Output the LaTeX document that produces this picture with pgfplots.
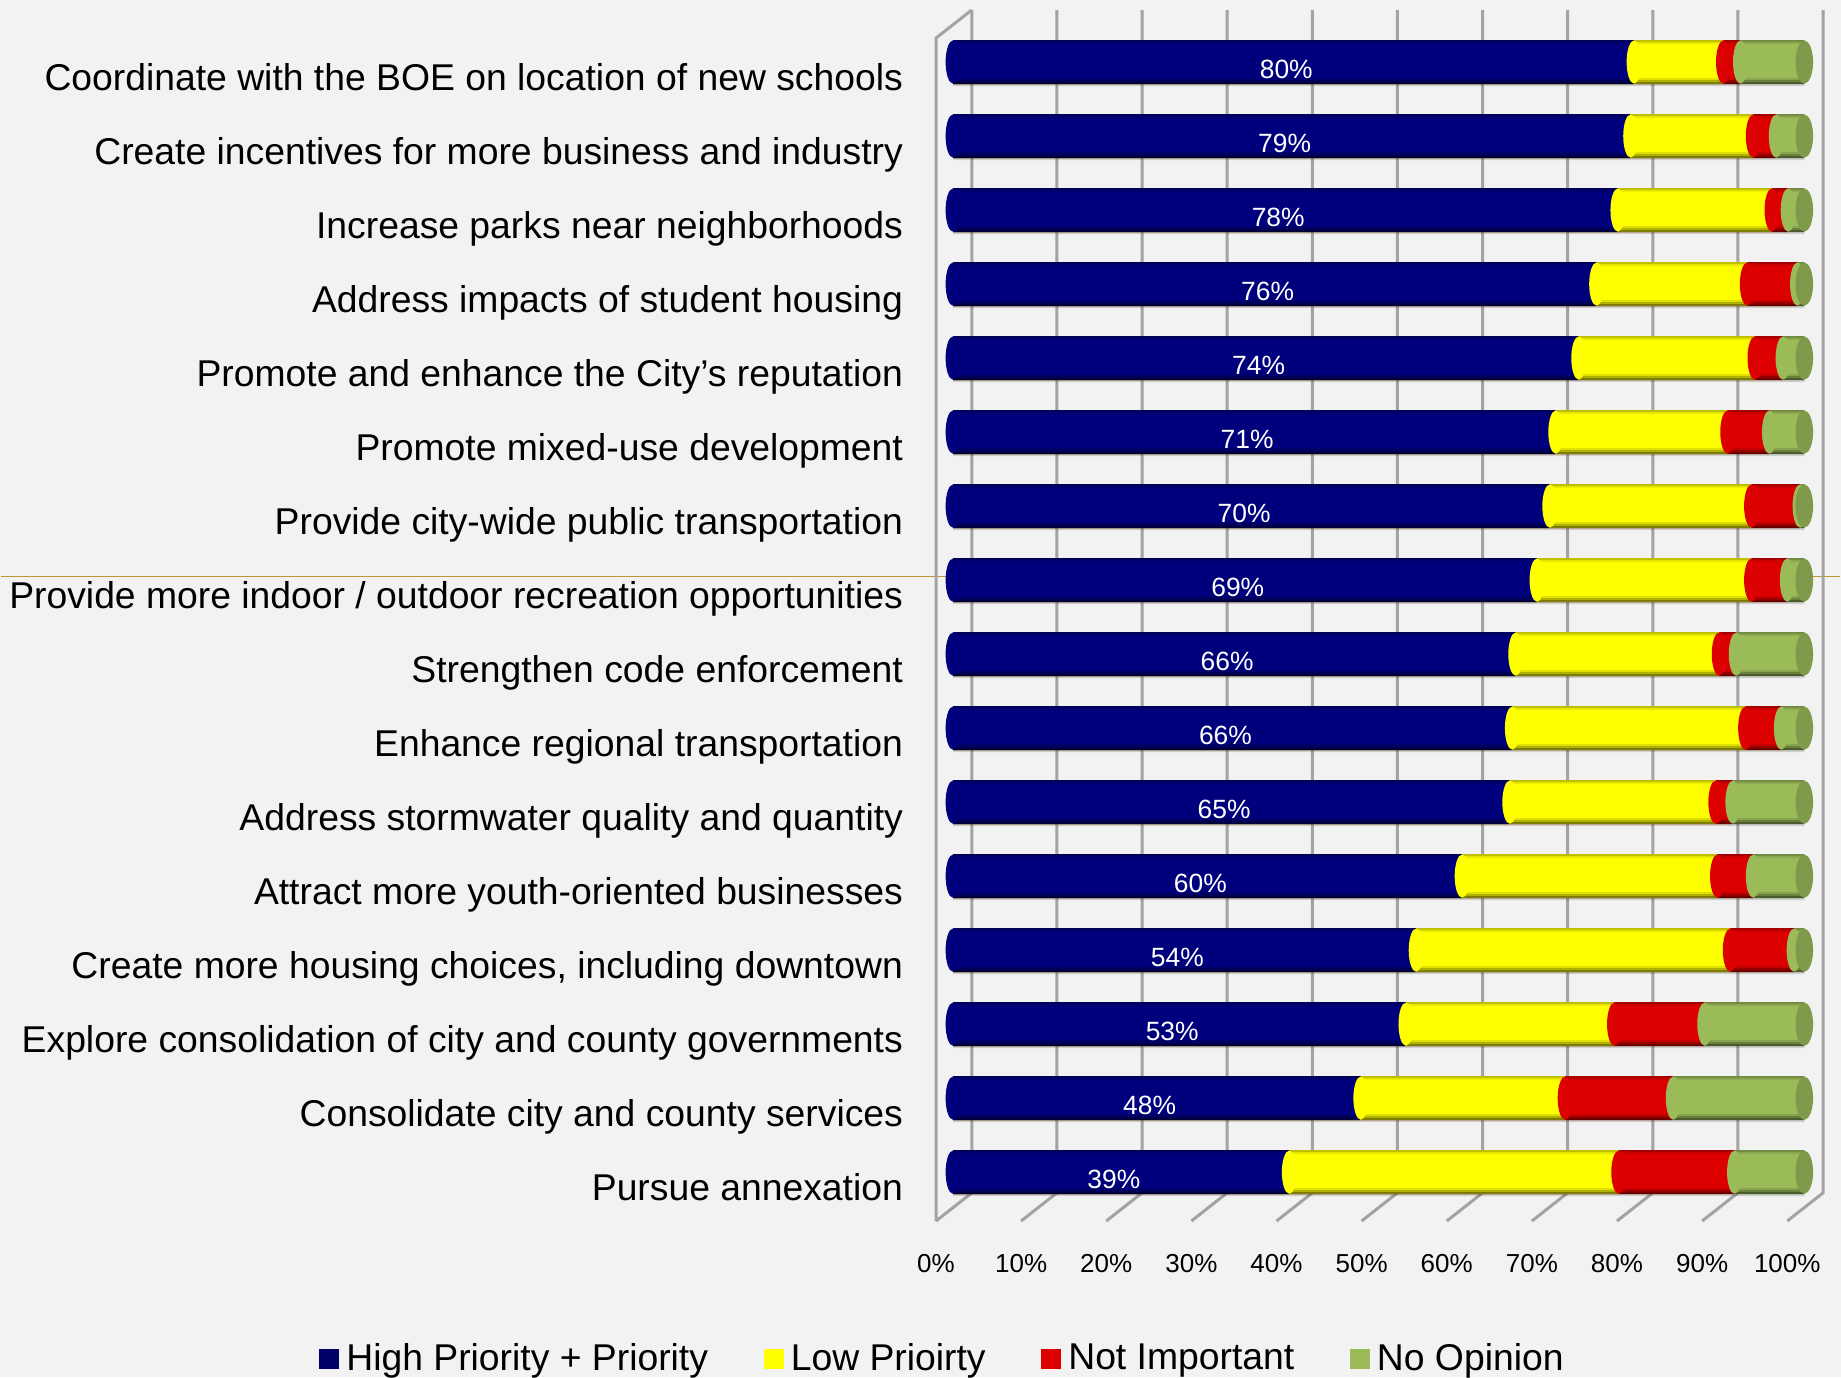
\documentclass[border=0pt]{standalone}
\usepackage{fontspec}
\setmainfont{Liberation Sans}
\usepackage{pgfplots}
\usepackage{pgfplotstable}
\pgfplotsset{compat=1.18}

\definecolor{pagebg}{HTML}{F2F2F2}
\definecolor{navy}{HTML}{00007C}
\definecolor{navyleg}{HTML}{000066}
\definecolor{wall}{HTML}{A3A3A3}
\definecolor{lowy}{HTML}{FFFF00}
\definecolor{notr}{HTML}{DD0000}
\definecolor{nopg}{HTML}{9BBB59}
\definecolor{nopd}{HTML}{7F9A4A}

\pgfdeclareplotmark{cap}{%
  \pgfpathellipse{\pgfpointorigin}{\pgfqpoint{3.7pt}{0pt}}{\pgfqpoint{0pt}{10.8pt}}%
  \pgfusepathqfill}
\pgfdeclareplotmark{capend}{%
  \pgfpathellipse{\pgfpointorigin}{\pgfqpoint{4.4pt}{0pt}}{\pgfqpoint{0pt}{10.8pt}}%
  \pgfusepathqfill}

% share of answers per row, last column is the printed label
\pgfplotstableread{
row high low noti noop lab
0  80.0 10.5 2.0  7.5  80
1  79.6 14.4 2.7  3.3  79
2  78.1 18.1 1.9  1.9  78
3  75.6 17.7 5.9  0.8  76
4  73.5 20.7 3.3  2.5  74
5  70.8 20.2 4.9  4.1  71
6  70.1 23.7 5.7  0.5  70
7  68.6 25.2 4.2  2.0  69
8  66.1 23.9 2.0  8.0  66
9  65.7 27.4 4.2  2.7  66
10 65.4 24.2 2.0  8.4  65
11 59.8 30.0 4.2  6.0  60
12 54.4 36.9 7.5  1.2  54
13 53.2 24.5 10.6 11.7 53
14 47.9 24.0 12.7 15.4 48
15 39.5 38.7 13.6 8.2  39
}\shares

\pgfplotsset{
  seg/.style={forget plot, xbar, bar width=22pt, bar shift=0pt, draw=none, fill=#1},
  edge/.style 2 args={forget plot, xbar, bar width=1pt, bar shift=#1, draw=none, fill=black, fill opacity=#2},
}

\begin{document}
\begin{tikzpicture}
\fill[pagebg] (-468pt,-78pt) rectangle (452.5pt,610.5pt);
\useasboundingbox (-468pt,-78pt) rectangle (452.5pt,610.5pt);
\begin{axis}[
    at={(0,0)}, anchor=south west,
    scale only axis,
    width=443.5pt, height=605.5pt,
    clip=false,
    axis line style={draw=none},
    major tick length=0pt,
    xmin=-2, xmax=102.2,
    ymin=-0.703, ymax=15.66,
    y dir=reverse,
    xtick={-2,8,18,28,38,48,58,68,78,88,98},
    xticklabels={0\%,10\%,20\%,30\%,40\%,50\%,60\%,70\%,80\%,90\%,100\%},
    xticklabel style={font=\fontsize{13}{15}\selectfont, yshift=-13pt},
    ytick={0,...,15},
    yticklabels={
      Coordinate with the BOE on location of new schools,
      Create incentives for more business and industry,
      Increase parks near neighborhoods,
      Address impacts of student housing,
      Promote and enhance the City’s reputation,
      Promote mixed-use development,
      Provide city-wide public transportation,
      Provide more indoor / outdoor recreation opportunities,
      Strengthen code enforcement,
      Enhance regional transportation,
      Address stormwater quality and quantity,
      Attract more youth-oriented businesses,
      {Create more housing choices, including downtown},
      Explore consolidation of city and county governments,
      Consolidate city and county services,
      Pursue annexation},
    yticklabel style={font=\fontsize{18.65}{22}\selectfont, anchor=east, text height=14pt, text depth=4pt, xshift=-13pt, yshift=-9.2pt},
    legend columns=4,
    legend style={at={(rel axis cs:0,0)}, anchor=west, xshift=-311.6pt, yshift=-68.7pt,
      draw=none, fill=none, font=\fontsize{18.65}{22}\selectfont,
      /tikz/every even column/.append style={column sep=25.75pt},
      /tikz/every odd column/.append style={column sep=1.7pt}},
    legend image code/.code={\fill[#1] (0pt,-4.75pt) rectangle (9.5pt,4.75pt);},
    legend cell align=left,
]
\addlegendimage{navyleg}
\addlegendentry{High Priority + Priority}
\addlegendimage{lowy}
\addlegendentry{Low Prioirty}
\addlegendimage{notr}
\addlegendentry{Not Important}
\addlegendimage{nopg}
\addlegendentry{No Opinion}

% stray line across the slide
\addplot[forget plot, color={rgb,255:red,190;green,150;blue,50}, line width=0.5pt]
  coordinates {(-111.8,6.95)(104.2,6.95)};

% back wall and floor
\addplot[forget plot, wall, line width=1.5pt, unbounded coords=jump] coordinates {
  (2.2,-0.703)(2.2,15.28)(-2,15.66) (nan,nan)
  (12.2,-0.703)(12.2,15.28)(8,15.66) (nan,nan)
  (22.2,-0.703)(22.2,15.28)(18,15.66) (nan,nan)
  (32.2,-0.703)(32.2,15.28)(28,15.66) (nan,nan)
  (42.2,-0.703)(42.2,15.28)(38,15.66) (nan,nan)
  (52.2,-0.703)(52.2,15.28)(48,15.66) (nan,nan)
  (62.2,-0.703)(62.2,15.28)(58,15.66) (nan,nan)
  (72.2,-0.703)(72.2,15.28)(68,15.66) (nan,nan)
  (82.2,-0.703)(82.2,15.28)(78,15.66) (nan,nan)
  (92.2,-0.703)(92.2,15.28)(88,15.66) (nan,nan)
  (102.2,-0.703)(102.2,15.28)(98,15.66) (nan,nan)
  (2.2,-0.703)(-2,-0.324)(-2,15.66)
};

% bars, drawn back to front
\addplot[seg=nopg] table[x expr=\thisrow{high}+\thisrow{low}+\thisrow{noti}+\thisrow{noop}, y=row] {\shares};
\addplot[seg=notr] table[x expr=\thisrow{high}+\thisrow{low}+\thisrow{noti}, y=row] {\shares};
\addplot[seg=lowy] table[x expr=\thisrow{high}+\thisrow{low}, y=row] {\shares};
\addplot[seg=navy] table[x=high, y=row] {\shares};

% rounded ends at each join
\addplot[forget plot, only marks, mark=cap, mark options={fill=navy, draw=none}]
  table[x expr=0, y=row] {\shares};
\addplot[forget plot, only marks, mark=cap, mark options={fill=lowy, draw=none}]
  table[x=high, y=row] {\shares};
\addplot[forget plot, only marks, mark=cap, mark options={fill=notr, draw=none}]
  table[x expr=\thisrow{high}+\thisrow{low}, y=row] {\shares};
\addplot[forget plot, only marks, mark=cap, mark options={fill=nopg, draw=none}]
  table[x expr=\thisrow{high}+\thisrow{low}+\thisrow{noti}, y=row] {\shares};
\addplot[forget plot, only marks, mark=capend, mark options={fill=nopd, draw=none}]
  table[x expr=\thisrow{high}+\thisrow{low}+\thisrow{noti}+\thisrow{noop}, y=row] {\shares};

% darker rims of the cylinders, faint shadow under them
\addplot[edge={-11.5pt}{0.14}] table[x expr=\thisrow{high}+\thisrow{low}+\thisrow{noti}+\thisrow{noop}, y=row] {\shares};
\addplot[edge={-10.5pt}{0.50}] table[x expr=\thisrow{high}+\thisrow{low}+\thisrow{noti}+\thisrow{noop}, y=row] {\shares};
\addplot[edge={-9.5pt}{0.30}] table[x expr=\thisrow{high}+\thisrow{low}+\thisrow{noti}+\thisrow{noop}, y=row] {\shares};
\addplot[edge={-8.5pt}{0.12}] table[x expr=\thisrow{high}+\thisrow{low}+\thisrow{noti}+\thisrow{noop}, y=row] {\shares};
\addplot[edge={10.5pt}{0.25}] table[x expr=\thisrow{high}+\thisrow{low}+\thisrow{noti}+\thisrow{noop}, y=row] {\shares};
\addplot[edge={9.5pt}{0.08}] table[x expr=\thisrow{high}+\thisrow{low}+\thisrow{noti}+\thisrow{noop}, y=row] {\shares};

% percent labels on the navy part
\addplot[forget plot, only marks, mark=none,
    point meta=\thisrow{lab},
    nodes near coords={\pgfmathprintnumber[fixed,precision=0,assume math mode=true]{\pgfplotspointmeta}\%},
    nodes near coords align={center},
    every node near coord/.append style={font=\fontsize{13.2}{15}\selectfont, text=white, yshift=-3.6pt}]
  table[x expr=\thisrow{high}/2-0.85, y=row] {\shares};
\end{axis}
\end{tikzpicture}
\end{document}
